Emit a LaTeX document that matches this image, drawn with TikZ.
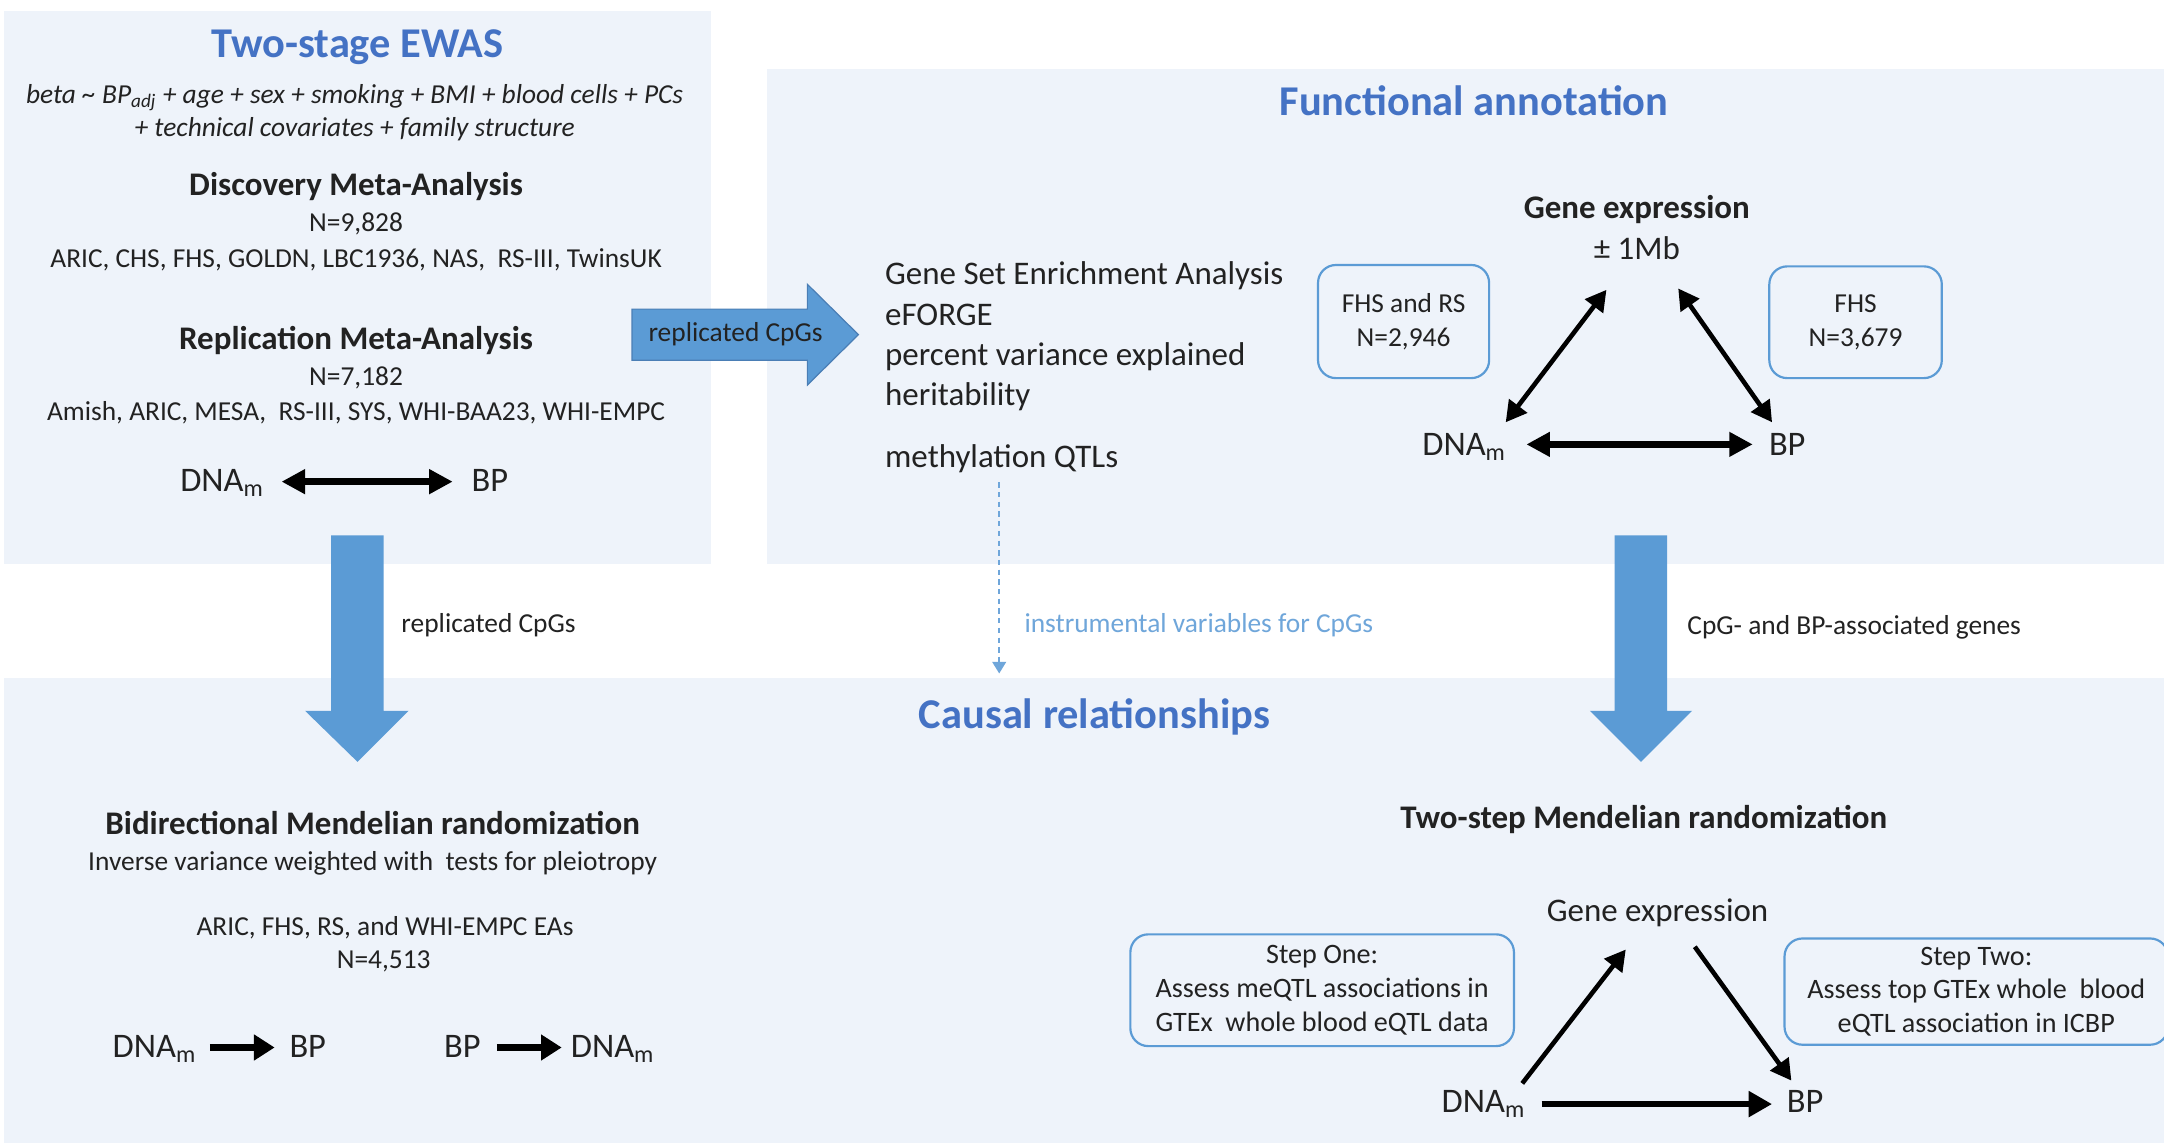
\documentclass[tikz,border=0pt]{standalone}
\usepackage{fontspec}
\setmainfont{Carlito}
\usetikzlibrary{arrows.meta,calc}
\definecolor{panel}{HTML}{EEF3FA}
\definecolor{ttl}{HTML}{4472C4}
\definecolor{blk}{HTML}{5B9BD5}
\definecolor{blkd}{HTML}{4A7EB5}
\definecolor{lb}{HTML}{6FA6DA}
\definecolor{txt}{HTML}{222222}
\begin{document}
\begin{tikzpicture}[x=0.02cm,y=-0.02cm,
  every node/.style={inner sep=0pt,text=txt},
  ttlt/.style={font=\fontsize{17.5}{21}\selectfont\bfseries,text=ttl,anchor=base},
  hdr/.style={font=\fontsize{13.6}{16}\selectfont\bfseries,anchor=base},
  body/.style={font=\fontsize{11.3}{13.8}\selectfont,anchor=base},
  bodyi/.style={font=\fontsize{11.3}{13.8}\selectfont\itshape,anchor=base},
  lst/.style={font=\fontsize{13.6}{16}\selectfont,anchor=base west},
  mid/.style={font=\fontsize{13.6}{16}\selectfont,anchor=base},
  var/.style={font=\fontsize{14.2}{17}\selectfont,anchor=base},
  rbox/.style={draw=blk,line width=0.9pt,rounded corners=0.26cm,fill=panel,align=center,
     font=\fontsize{11.3}{13.8}\selectfont},
  rbox2/.style={draw=blk,line width=0.9pt,rounded corners=0.26cm,fill=panel,align=center,
     font=\fontsize{11.6}{13.9}\selectfont},
  dbl/.style={{Triangle[length=0.3cm,width=0.32cm]}-{Triangle[length=0.3cm,width=0.32cm]},line width=1.9pt},
  dblh/.style={{Triangle[length=0.34cm,width=0.34cm]}-{Triangle[length=0.34cm,width=0.34cm]},line width=2.6pt},
  sgl/.style={-{Triangle[length=0.3cm,width=0.32cm]},line width=1.9pt},
  sglh/.style={-{Triangle[length=0.3cm,width=0.36cm]},line width=3pt},
]
\useasboundingbox (0,0) rectangle (1568,830);
\fill[white] (0,0) rectangle (1568,830);
% panels
\fill[panel] (3,8) rectangle (515,409);
\fill[panel] (556,50) rectangle (1568,409);
\fill[panel] (3,491) rectangle (1568,828);

% ---------- Two-stage EWAS ----------
\node[ttlt] (t1) at (259,42) {Two-stage EWAS};
\node[bodyi] (f1) at (257,75) {beta \textasciitilde{} BP\textsubscript{adj} + age + sex + smoking + BMI + blood cells + PCs};
\node[bodyi] (f2) at (257,99) {+ technical covariates + family structure};
\node[hdr] (disc) at (258,142) {Discovery Meta-Analysis};
\node[body] (dn) at (258,168) {N=9,828};
\node[body] (dc) at (258,194) {ARIC, CHS, FHS, GOLDN, LBC1936, NAS, \ RS-III, TwinsUK};
\node[hdr] (rep) at (258,253) {Replication Meta-Analysis};
\node[body] (rn) at (258,279) {N=7,182};
\node[body] (rc) at (258,304.5) {Amish, ARIC, MESA, \ RS-III, SYS, WHI-BAA23, WHI-EMPC};
\node[var] (dna1) at (161,356) {DNA\textsubscript{m}};
\node[var] (bp1) at (355,356) {BP};
\draw[dblh] ($(dna1.base)+(43,-7)$) -- ($(bp1.base)+(-27,-7)$);

% big blue arrows
\fill[blk] (240,388) -- (278,388) -- (278,515) -- (296,515) -- (259,552) -- (221,515) -- (240,515) -- cycle;
\fill[blk] (1170,388) -- (1208,388) -- (1208,515) -- (1226,515) -- (1189,552) -- (1152,515) -- (1170,515) -- cycle;
\filldraw[fill=blk,draw=blkd,line width=0.5pt] (458,224) -- (585,224) -- (585,206) -- (622,242.5) -- (585,279) -- (585,261) -- (458,261) -- cycle;
\node[body] (rarr) at (533,247.5) {replicated CpGs};

% ---------- Functional annotation ----------
\node[ttlt] (t2) at (1068,84) {Functional annotation};
\node[lst] (g1) at (641,206.5) {Gene Set Enrichment Analysis};
\node[lst] (g2) at (641,235.5) {eFORGE};
\node[lst] (g3) at (641,264.5) {percent variance explained};
\node[lst] (g4) at (641,293.5) {heritability};
\node[lst] (mqtl) at (641,338.5) {methylation QTLs};
\node[hdr] (ge) at (1186,158) {Gene expression};
\node[mid] (pm) at (1186,188) {± 1Mb};
\node[rbox,minimum width=2.48cm,minimum height=1.64cm] (b1) at (1017,233) {FHS and RS\\N=2,946};
\node[rbox,minimum width=2.5cm,minimum height=1.62cm] (b2) at (1344.5,233.5) {FHS\\N=3,679};
\node[var] (dna2) at (1061,330) {DNA\textsubscript{m}};
\node[var] (bp2) at (1295,330) {BP};
\draw[dbl] ($(dna2.base)+(30,-24)$) -- ($(pm.base)+(-22,22)$);
\draw[dbl] ($(pm.base)+(30,21)$) -- ($(bp2.base)+(-11,-24)$);
\draw[dblh] ($(dna2.base)+(45,-8)$) -- ($(bp2.base)+(-25,-8)$);

% gap labels
\node[body] (lab1) at (354,458) {replicated CpGs};
\node[body,anchor=base west,text=lb] (lab2) at (742,458) {instrumental variables for CpGs};
\node[body] (lab3) at (1343.5,459.5) {CpG- and BP-associated genes};
\coordinate (ivend) at (724,488);
\draw[lb,line width=0.8pt,dash pattern=on 2.2pt off 1.8pt,-{Triangle[length=0.17cm,width=0.2cm]}]
  ($(mqtl.base west)+(83,11)$) -- (ivend);

% ---------- Causal relationships ----------
\node[ttlt] (t3) at (793,528) {Causal relationships};
\node[hdr] (bmr) at (270,605) {Bidirectional Mendelian randomization};
\node[body] (ivw) at (270,630.5) {Inverse variance weighted with \ tests for pleiotropy};
\node[body] (coh) at (279,678) {ARIC, FHS, RS, and WHI-EMPC EAs};
\node[body] (n4) at (278,702) {N=4,513};
\node[var] (dna4) at (112,766) {DNA\textsubscript{m}};
\node[var] (bp4) at (223,766) {BP};
\node[var] (bp5) at (335,766) {BP};
\node[var] (dna5) at (444,766) {DNA\textsubscript{m}};
\draw[sglh] ($(dna4.base)+(40,-7)$) -- ($(bp4.base)+(-24,-7)$);
\draw[sglh] ($(bp5.base)+(25,-7)$) -- ($(dna5.base)+(-37,-7)$);

\node[hdr] (tsmr) at (1191,600) {Two-step Mendelian randomization};
\node[mid] (ge3) at (1201,668) {Gene expression};
\node[rbox2,minimum width=5.56cm,minimum height=1.62cm] (s1) at (958,717.5)
  {Step One:\\Assess meQTL associations in\\GTEx \ whole blood eQTL data};
\node[rbox2,minimum width=5.56cm,minimum height=1.54cm] (s2) at (1432,718.5)
  {Step Two:\\Assess top GTEx whole \ blood\\eQTL association in ICBP};
\node[var] (dna3) at (1075,806) {DNA\textsubscript{m}};
\node[var] (bp3) at (1308,806) {BP};
\draw[sgl] ($(dna3.base)+(28,-21)$) -- ($(ge3.base)+(-23,20)$);
\draw[sgl] ($(ge3.base)+(27,18)$) -- ($(bp3.base)+(-10,-23)$);
\draw[-{Triangle[length=0.34cm,width=0.36cm]},line width=2.6pt] ($(dna3.base)+(42,-6)$) -- ($(bp3.base)+(-24,-6)$);
\end{tikzpicture}
\end{document}
